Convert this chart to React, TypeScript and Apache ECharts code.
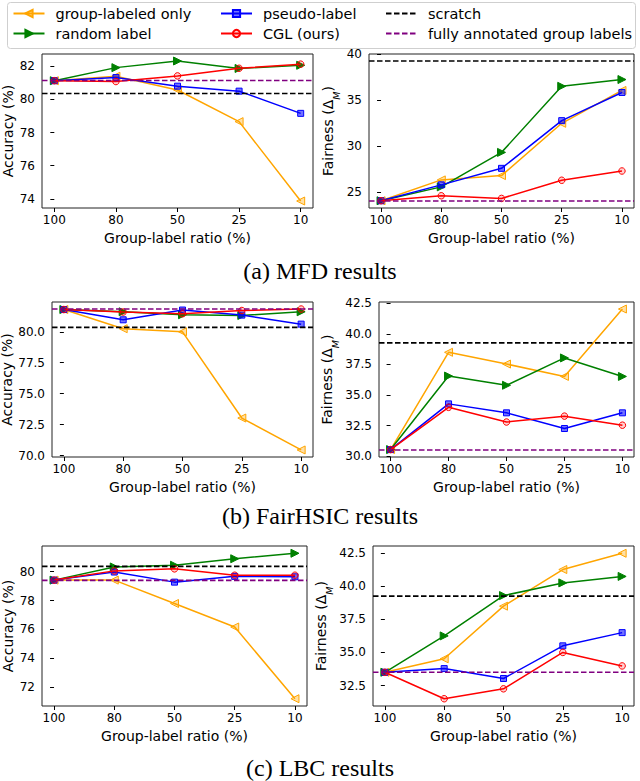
import React, { useEffect, useRef } from "react";
import * as echarts from "echarts";

// ---------------- data ----------------
const ratioLabels = ["100", "80", "50", "25", "10"];
const methodNames = ["group-labeled only", "random label", "pseudo-label", "CGL (ours)"];
const scratchName = "scratch";
const fullName = "fully annotated group labels";

// (a) MFD
const mfdAccGroupOnly = [81.13, 81.4, 80.57, 78.66, 73.87];
const mfdAccRandom = [81.13, 81.92, 82.32, 81.87, 82.06];
const mfdAccPseudo = [81.13, 81.32, 80.8, 80.5, 79.16];
const mfdAccCGL = [81.13, 81.08, 81.42, 81.88, 82.13];
const mfdAccScratch = 80.36;
const mfdAccFull = 81.14;
const mfdAccTicks = [74, 76, 78, 80, 82];

const mfdFairGroupOnly = [24.03, 26.3, 26.77, 32.47, 36.05];
const mfdFairRandom = [24.03, 25.54, 29.3, 36.5, 37.24];
const mfdFairPseudo = [24.03, 25.76, 27.56, 32.76, 35.83];
const mfdFairCGL = [24.03, 24.57, 24.28, 26.26, 27.27];
const mfdFairScratch = 39.26;
const mfdFairFull = 24.0;
const mfdFairTicks = [25, 30, 35, 40];

// (b) FairHSIC
const hsicAccGroupOnly = [81.8, 80.25, 80.0, 73.03, 70.45];
const hsicAccRandom = [81.8, 81.62, 81.38, 81.32, 81.62];
const hsicAccPseudo = [81.8, 80.97, 81.76, 81.35, 80.62];
const hsicAccCGL = [81.8, 81.6, 81.46, 81.72, 81.84];
const hsicAccScratch = 80.36;
const hsicAccFull = 81.84;
const hsicAccTicks = [70, 72.5, 75, 77.5, 80];

const hsicFairGroupOnly = [30.55, 38.49, 37.53, 36.52, 42.02];
const hsicFairRandom = [30.55, 36.55, 35.8, 38.03, 36.52];
const hsicFairPseudo = [30.55, 34.28, 33.55, 32.27, 33.55];
const hsicFairCGL = [30.55, 34.0, 32.8, 33.28, 32.54];
const hsicFairScratch = 39.26;
const hsicFairFull = 30.52;
const hsicFairTicks = [30, 32.5, 35, 37.5, 40, 42.5];

// (c) LBC
const lbcAccGroupOnly = [79.42, 79.42, 77.8, 76.17, 71.2];
const lbcAccRandom = [79.42, 80.33, 80.45, 80.9, 81.28];
const lbcAccPseudo = [79.42, 79.98, 79.28, 79.68, 79.65];
const lbcAccCGL = [79.42, 80.06, 80.2, 79.76, 79.76];
const lbcAccScratch = 80.37;
const lbcAccFull = 79.4;
const lbcAccTicks = [72, 74, 76, 78, 80];

const lbcFairGroupOnly = [33.5, 34.52, 38.5, 41.27, 42.5];
const lbcFairRandom = [33.5, 36.25, 39.3, 40.26, 40.75];
const lbcFairPseudo = [33.5, 33.78, 33.03, 35.5, 36.5];
const lbcFairCGL = [33.5, 31.5, 32.25, 35.0, 33.98];
const lbcFairScratch = 39.26;
const lbcFairFull = 33.5;
const lbcFairTicks = [32.5, 35, 37.5, 40, 42.5];

// ---------------- styles / layout ----------------
const FONT = "DejaVu Sans";
const SERIF = "Liberation Serif";
const XMIN = -0.2;
const XMAX = 4.2;
const xIdx = [0, 1, 2, 3, 4];

const methodStyles = [
  { color: "#FFA500", symbol: "triangle", rotate: 90, size: 8, fill: "rgba(255,165,0,0.35)" },
  { color: "#008000", symbol: "triangle", rotate: -90, size: 8, fill: "#008000" },
  { color: "#0000FF", symbol: "rect", rotate: 0, size: 6, fill: "rgba(0,0,255,0.55)" },
  { color: "#FF0000", symbol: "circle", rotate: 0, size: 6.5, fill: "rgba(255,0,0,0.18)" },
];

type Panel = {
  grid: { left: number; top: number; width: number; height: number };
  methods: number[][];
  scratch: number;
  full: number;
  ticks: number[];
  dec: number;
  fair: boolean;
  nameGap: number;
};

const panels: Panel[] = [
  { grid: { left: 42, top: 54, width: 271, height: 154 }, methods: [mfdAccGroupOnly, mfdAccRandom, mfdAccPseudo, mfdAccCGL], scratch: mfdAccScratch, full: mfdAccFull, ticks: mfdAccTicks, dec: 0, fair: false, nameGap: 27 },
  { grid: { left: 369, top: 54, width: 265, height: 154 }, methods: [mfdFairGroupOnly, mfdFairRandom, mfdFairPseudo, mfdFairCGL], scratch: mfdFairScratch, full: mfdFairFull, ticks: mfdFairTicks, dec: 0, fair: true, nameGap: 28 },
  { grid: { left: 52, top: 302, width: 261, height: 155 }, methods: [hsicAccGroupOnly, hsicAccRandom, hsicAccPseudo, hsicAccCGL], scratch: hsicAccScratch, full: hsicAccFull, ticks: hsicAccTicks, dec: 1, fair: false, nameGap: 38 },
  { grid: { left: 379, top: 302, width: 255, height: 155 }, methods: [hsicFairGroupOnly, hsicFairRandom, hsicFairPseudo, hsicFairCGL], scratch: hsicFairScratch, full: hsicFairFull, ticks: hsicFairTicks, dec: 1, fair: true, nameGap: 39 },
  { grid: { left: 42, top: 546, width: 265, height: 160 }, methods: [lbcAccGroupOnly, lbcAccRandom, lbcAccPseudo, lbcAccCGL], scratch: lbcAccScratch, full: lbcAccFull, ticks: lbcAccTicks, dec: 0, fair: false, nameGap: 27 },
  { grid: { left: 373, top: 546, width: 261, height: 160 }, methods: [lbcFairGroupOnly, lbcFairRandom, lbcFairPseudo, lbcFairCGL], scratch: lbcFairScratch, full: lbcFairFull, ticks: lbcFairTicks, dec: 1, fair: true, nameGap: 39 },
];

const captions = [
  { text: "(a) MFD results", y: 271 },
  { text: "(b) FairHSIC results", y: 516 },
  { text: "(c) LBC results", y: 768 },
];

function yExtent(p: Panel): [number, number] {
  const all = [...p.methods.flat(), p.scratch, p.full];
  const lo = Math.min(...all);
  const hi = Math.max(...all);
  const m = (hi - lo) * 0.05;
  return [lo - m, hi + m];
}

function buildOption() {
  const grids: any[] = [];
  const xAxes: any[] = [];
  const yAxes: any[] = [];
  const series: any[] = [];

  panels.forEach((p, i) => {
    grids.push({
      ...p.grid,
      show: true,
      borderColor: "#222",
      borderWidth: 1,
      backgroundColor: "transparent",
      containLabel: false,
      outerBoundsMode: "none",
    });
    xAxes.push({
      gridIndex: i,
      type: "value",
      min: XMIN,
      max: XMAX,
      axisLine: { show: false },
      splitLine: { show: false },
      axisTick: { show: true, customValues: xIdx, length: 4, lineStyle: { color: "#000", width: 1 } },
      axisLabel: {
        customValues: xIdx,
        formatter: (v: number) => ratioLabels[Math.round(v)] ?? "",
        color: "#000",
        fontSize: 12,
        fontFamily: FONT,
        margin: 6,
      },
      name: "Group-label ratio (%)",
      nameLocation: "middle",
      nameGap: 23,
      nameTextStyle: { color: "#000", fontSize: 14, fontFamily: FONT },
    });
    const [lo, hi] = yExtent(p);
    yAxes.push({
      gridIndex: i,
      type: "value",
      min: lo,
      max: hi,
      axisLine: { show: false },
      splitLine: { show: false },
      axisTick: { show: true, customValues: p.ticks, length: 4, lineStyle: { color: "#000", width: 1 } },
      axisLabel: {
        customValues: p.ticks,
        formatter: (v: number) => v.toFixed(p.dec),
        color: "#000",
        fontSize: 12,
        fontFamily: FONT,
        margin: 7,
      },
      name: p.fair ? "{a|Fairness (Δ}{sub|M}{a|)}" : "Accuracy (%)",
      nameLocation: "middle",
      nameRotate: 90,
      nameGap: p.nameGap,
      nameTextStyle: {
        color: "#000",
        fontSize: 14,
        fontFamily: FONT,
        rich: {
          a: { color: "#000", fontSize: 14, fontFamily: FONT, lineHeight: 20, verticalAlign: "top" },
          sub: { color: "#000", fontSize: 9.5, fontFamily: FONT, fontStyle: "italic", lineHeight: 20, verticalAlign: "bottom" },
        },
      },
    });

    p.methods.forEach((vals, k) => {
      const st = methodStyles[k];
      series.push({
        type: "line",
        name: methodNames[k],
        xAxisIndex: i,
        yAxisIndex: i,
        data: vals.map((v, j) => [xIdx[j], v]),
        symbol: st.symbol,
        symbolRotate: st.rotate,
        symbolSize: st.size,
        showAllSymbol: true,
        lineStyle: { color: st.color, width: 1.5 },
        itemStyle: { color: st.fill, borderColor: st.color, borderWidth: 1 },
        z: 3 + k,
      });
    });
    series.push({
      type: "line",
      name: scratchName,
      xAxisIndex: i,
      yAxisIndex: i,
      data: [[XMIN, p.scratch], [XMAX, p.scratch]],
      symbol: "none",
      lineStyle: { color: "#000", width: 1.6, type: [5.5, 2.5] },
      itemStyle: { color: "transparent", borderWidth: 0, opacity: 0 },
      z: 8,
    });
    series.push({
      type: "line",
      name: fullName,
      xAxisIndex: i,
      yAxisIndex: i,
      data: [[XMIN, p.full], [XMAX, p.full]],
      symbol: "none",
      lineStyle: { color: "#800080", width: 1.6, type: [5.5, 2.5] },
      itemStyle: { color: "transparent", borderWidth: 0, opacity: 0 },
      z: 9,
    });
  });

  const legendCols: any[][] = [
    [methodNames[0], methodNames[1]],
    [methodNames[2], methodNames[3]],
    [
      { name: scratchName, itemStyle: { opacity: 0 } },
      { name: fullName, itemStyle: { opacity: 0 } },
    ],
  ];
  const legendLeft = [12.5, 220, 385];
  const legends = legendCols.map((d, i) => ({
    data: d,
    left: legendLeft[i],
    top: 3.5,
    orient: "vertical",
    padding: 0,
    itemWidth: 31,
    itemHeight: 9,
    itemGap: 0,
    selectedMode: false,
    textStyle: { fontSize: 14.5, fontFamily: FONT, color: "#000", lineHeight: 20, padding: [0, 0, 0, 6] },
    z: 10,
  }));

  const graphics: any[] = [
    {
      type: "rect",
      shape: { x: 7.5, y: 2.5, width: 628, height: 46, r: 3 },
      style: { fill: "#fff", stroke: "#cfcfcf", lineWidth: 1 },
      z: 1,
    },
    ...captions.map((c) => ({
      type: "text",
      x: 320,
      y: c.y,
      style: { text: c.text, font: `24px "${SERIF}"`, fill: "#000", align: "center", verticalAlign: "middle" },
    })),
  ];

  return {
    animation: false,
    backgroundColor: "#fff",
    grid: grids,
    xAxis: xAxes,
    yAxis: yAxes,
    series,
    legend: legends,
    graphic: graphics,
  };
}

export default function App() {
  const ref = useRef<HTMLDivElement>(null);
  useEffect(() => {
    if (!ref.current) return;
    const chart = echarts.init(ref.current, null, { renderer: "svg" });
    chart.setOption(buildOption() as any);
    return () => chart.dispose();
  }, []);
  return (
    <div
      ref={ref}
      style={{ position: "absolute", left: 0, top: 0, width: 640, height: 781, background: "#fff" }}
    />
  );
}
